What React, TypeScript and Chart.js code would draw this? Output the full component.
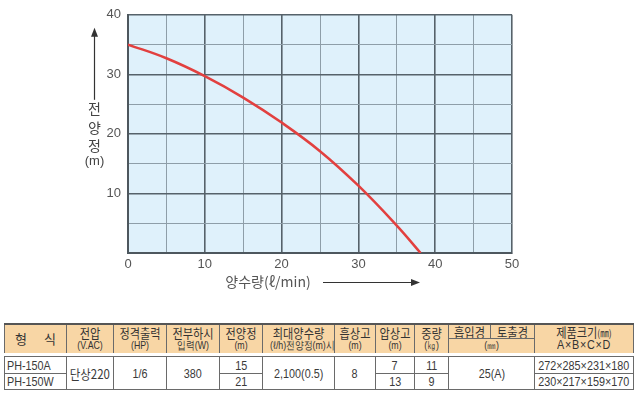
import React, { useEffect, useRef } from "react";
import { Chart, registerables } from "chart.js";
Chart.register(...registerables);

// ---- chart data ----
const flowLpm = [0, 5, 10, 15, 20, 25, 30, 35, 38.1];
const headM = [35, 32.7, 29.7, 26.1, 21.9, 17.1, 11.3, 4.6, 0];
const xLabeled = [0, 10, 20, 30, 40, 50];
const yLabeled = [10, 20, 30, 40];
const yTitleChars = ["전", "양", "정", "(m)"];
const xTitle = "양수량(ℓ/min)";

// ---- table data ----
const models = ["PH-150A", "PH-150W"];
const voltage = "단상220";
const ratedHp = "1/6";
const fullLoadW = "380";
const totalHead = ["15", "21"];
const maxFlow = "2,100(0.5)";
const suctionHead = "8";
const pushHead = ["7", "13"];
const weight = ["11", "9"];
const bore = "25(A)";
const sizes = ["272×285×231×180", "230×217×159×170"];

const colW = [62, 47, 53, 53, 43, 72, 41, 39, 34, 42, 44, 99];

const LAT = "'Liberation Sans', Arial, sans-serif";
const KR = "'Noto Sans CJK KR', 'Liberation Sans', sans-serif";

const decorPlugin = {
  id: "decor",
  beforeDraw(chart: any) {
    const { ctx, chartArea: a } = chart;
    ctx.save();
    ctx.fillStyle = "#dff1fb";
    ctx.fillRect(a.left, a.top, a.right - a.left, a.bottom - a.top);
    ctx.restore();
  },
  afterDraw(chart: any) {
    const { ctx, chartArea: a } = chart;
    ctx.save();
    ctx.strokeStyle = "#333";
    ctx.fillStyle = "#333";
    ctx.lineWidth = 1.2;
    // y title arrow
    const ax = a.left - 33.5;
    ctx.beginPath();
    ctx.moveTo(ax, a.top + 85);
    ctx.lineTo(ax, a.top + 20);
    ctx.stroke();
    ctx.beginPath();
    ctx.moveTo(ax, a.top + 13);
    ctx.lineTo(ax - 3.5, a.top + 22);
    ctx.lineTo(ax + 3.5, a.top + 22);
    ctx.closePath();
    ctx.fill();
    // y title chars
    ctx.fillStyle = "#444";
    ctx.textAlign = "center";
    ctx.textBaseline = "middle";
    const ys = [94, 113, 131, 147];
    yTitleChars.forEach((c, i) => {
      ctx.font = i < 3 ? "14px " + KR : "13px " + LAT;
      ctx.fillText(c, ax, a.top + ys[i]);
    });
    // x title
    ctx.font = "14px " + KR;
    ctx.fillStyle = "#555";
    ctx.fillText(xTitle, 268, a.bottom + 29);
    ctx.strokeStyle = "#333";
    ctx.fillStyle = "#333";
    const yy = a.bottom + 29.5;
    ctx.beginPath();
    ctx.moveTo(323, yy);
    ctx.lineTo(412, yy);
    ctx.stroke();
    ctx.beginPath();
    ctx.moveTo(420, yy);
    ctx.lineTo(411, yy - 3.5);
    ctx.lineTo(411, yy + 3.5);
    ctx.closePath();
    ctx.fill();
    ctx.restore();
  },
};

function PumpChart() {
  const ref = useRef<HTMLCanvasElement | null>(null);
  useEffect(() => {
    if (!ref.current) return;
    const gridColor = (c: any) => (c.tick && c.tick.value % 10 === 0 ? "#56626a" : "#8e9ea8");
    const chart = new Chart(ref.current, {
      type: "line",
      data: {
        datasets: [
          {
            data: flowLpm.map((x, i) => ({ x, y: headM[i] })),
            borderColor: "#e2403f",
            borderWidth: 2.5,
            pointRadius: 0,
            tension: 0.4,
            fill: false,
          },
        ],
      },
      options: {
        animation: false,
        responsive: false,
        devicePixelRatio: 1,
        layout: { padding: { left: 0, right: 125, top: 13, bottom: 0 } },
        plugins: { legend: { display: false }, tooltip: { enabled: false } },
        scales: {
          x: {
            type: "linear",
            min: 0,
            max: 50,
            afterFit: (s: any) => {
              s.height = 47;
            },
            ticks: {
              stepSize: 5,
              autoSkip: false,
              maxRotation: 0,
              padding: 4,
              color: "#555",
              font: { size: 13, family: LAT },
              callback: (v: any) => (xLabeled.includes(Number(v)) ? String(v) : ""),
            },
            grid: {
              drawTicks: false,
              color: gridColor,
              lineWidth: (c: any) => (c.tick && c.tick.value % 10 === 0 ? 1.6 : 1),
            },
            border: { display: true, color: "#4d575e", width: 2 },
          },
          y: {
            type: "linear",
            min: 0,
            max: 40,
            afterFit: (s: any) => {
              s.width = 128;
            },
            ticks: {
              stepSize: 5,
              autoSkip: false,
              padding: 7,
              color: "#555",
              font: { size: 13, family: LAT },
              callback: (v: any) => (yLabeled.includes(Number(v)) ? String(v) : ""),
            },
            grid: {
              drawTicks: false,
              color: gridColor,
              lineWidth: (c: any) => (c.tick && c.tick.value % 10 === 0 ? 1.6 : 1),
            },
            border: { display: true, color: "#4d575e", width: 2 },
          },
        },
      } as any,
      plugins: [decorPlugin],
    });
    return () => chart.destroy();
  }, []);
  return (
    <canvas
      ref={ref}
      width={637}
      height={300}
      style={{ position: "absolute", left: 0, top: 0, width: 637, height: 300 }}
    />
  );
}

const hd: React.CSSProperties = {
  padding: 0,
  textAlign: "center",
  verticalAlign: "middle",
  borderLeft: "1px solid #6a6a6a",
  borderRight: "1px solid #6a6a6a",
  lineHeight: "13px",
  color: "#333",
  whiteSpace: "nowrap",
  overflow: "hidden",
};
const main: React.CSSProperties = {
  fontFamily: KR,
  fontSize: 13,
  display: "block",
  transform: "scaleX(0.86)",
};
const sub: React.CSSProperties = {
  fontFamily: LAT,
  fontSize: 11,
  display: "block",
  transform: "scaleX(0.8)",
};

const bd: React.CSSProperties = {
  padding: 0,
  textAlign: "center",
  verticalAlign: "middle",
  border: "1px solid #6a6a6a",
  fontFamily: LAT,
  fontSize: 13,
  lineHeight: "15px",
  color: "#3a3a3a",
  whiteSpace: "nowrap",
  overflow: "hidden",
};

function N({ children, left, kr }: { children: any; left?: boolean; kr?: boolean }) {
  return (
    <div
      style={{
        display: "flex",
        justifyContent: left ? "flex-start" : "center",
        paddingLeft: left ? 2 : 0,
      }}
    >
      <span
        style={{
          flexShrink: 0,
          display: "inline-block",
          transform: kr ? "scaleX(0.88)" : "scaleX(0.83)",
          transformOrigin: left ? "left center" : "center center",
          fontFamily: kr ? KR : LAT,
        }}
      >
        {children}
      </span>
    </div>
  );
}

function H({ a, b, rs, cs }: { a: string; b?: string; rs?: number; cs?: number }) {
  return (
    <td rowSpan={rs} colSpan={cs} style={hd}>
      <span style={main}>{a}</span>
      {b ? <span style={sub}>{b}</span> : null}
    </td>
  );
}

function SpecTable() {
  const cols = (
    <colgroup>
      {colW.map((w, i) => (
        <col key={i} style={{ width: w }} />
      ))}
    </colgroup>
  );
  return (
    <>
      <table
        style={{
          position: "absolute",
          left: 4,
          top: 323,
          width: 629,
          height: 28,
          borderCollapse: "collapse",
          tableLayout: "fixed",
          background: "#f8d6a5",
          borderTop: "2px solid #555",
        }}
      >
        {cols}
        <tbody>
          <tr style={{ height: 13 }}>
            <td rowSpan={2} style={hd}>
              <span style={{ ...main, transform: "none", wordSpacing: 14 }}>형 식</span>
            </td>
            <H a="전압" b="(V.AC)" rs={2} />
            <H a="정격출력" b="(HP)" rs={2} />
            <H a="전부하시" b="입력(W)" rs={2} />
            <H a="전양정" b="(m)" rs={2} />
            <H a="최대양수량" b="(ℓ/h)전양정(m)시" rs={2} />
            <H a="흡상고" b="(m)" rs={2} />
            <H a="압상고" b="(m)" rs={2} />
            <H a="중량" b="(㎏)" rs={2} />
            <td style={{ ...hd, borderBottom: "1px solid #6a6a6a" }}>
              <span style={main}>흡입경</span>
            </td>
            <td style={{ ...hd, borderBottom: "1px solid #6a6a6a" }}>
              <span style={main}>토출경</span>
            </td>
            <td rowSpan={2} style={hd}>
              <span style={main}>
                제품크기<span style={{ fontSize: 10 }}>(㎜)</span>
              </span>
              <span style={{ ...sub, fontSize: 12, transform: "scaleX(0.9)", letterSpacing: 0.8 }}>A×B×C×D</span>
            </td>
          </tr>
          <tr style={{ height: 14 }}>
            <td colSpan={2} style={hd}>
              <span style={sub}>(㎜)</span>
            </td>
          </tr>
        </tbody>
      </table>
      <table
        style={{
          position: "absolute",
          left: 4,
          top: 356,
          width: 629,
          height: 33,
          borderCollapse: "collapse",
          tableLayout: "fixed",
          background: "#fff",
        }}
      >
        {cols}
        <tbody>
          <tr style={{ height: 17 }}>
            <td style={{ ...bd, textAlign: "left" }}>
              <N left>{models[0]}</N>
            </td>
            <td rowSpan={2} style={bd}>
              <N kr>{voltage}</N>
            </td>
            <td rowSpan={2} style={bd}>
              <N>{ratedHp}</N>
            </td>
            <td rowSpan={2} style={bd}>
              <N>{fullLoadW}</N>
            </td>
            <td style={bd}>
              <N>{totalHead[0]}</N>
            </td>
            <td rowSpan={2} style={bd}>
              <N>{maxFlow}</N>
            </td>
            <td rowSpan={2} style={bd}>
              <N>{suctionHead}</N>
            </td>
            <td style={bd}>
              <N>{pushHead[0]}</N>
            </td>
            <td style={bd}>
              <N>{weight[0]}</N>
            </td>
            <td rowSpan={2} colSpan={2} style={bd}>
              <N>{bore}</N>
            </td>
            <td style={bd}>
              <N>{sizes[0]}</N>
            </td>
          </tr>
          <tr style={{ height: 16 }}>
            <td style={{ ...bd, textAlign: "left" }}>
              <N left>{models[1]}</N>
            </td>
            <td style={bd}>
              <N>{totalHead[1]}</N>
            </td>
            <td style={bd}>
              <N>{pushHead[1]}</N>
            </td>
            <td style={bd}>
              <N>{weight[1]}</N>
            </td>
            <td style={bd}>
              <N>{sizes[1]}</N>
            </td>
          </tr>
        </tbody>
      </table>
    </>
  );
}

export default function App() {
  return (
    <div
      style={{
        position: "absolute",
        left: 0,
        top: 0,
        width: 637,
        height: 395,
        background: "#fff",
        overflow: "hidden",
      }}
    >
      <PumpChart />
      <SpecTable />
    </div>
  );
}
